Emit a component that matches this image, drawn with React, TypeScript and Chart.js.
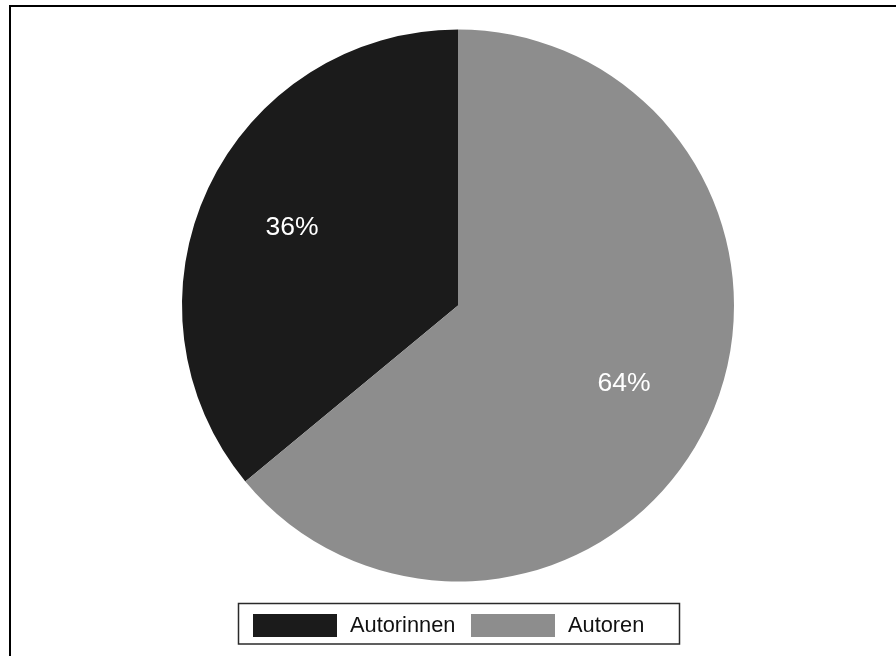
import React, { useEffect, useRef } from "react";
import { Chart, registerables } from "chart.js";

Chart.register(...registerables);

const categories = ["Autorinnen", "Autoren"];
const shares = [36, 64];
const sliceColors = ["#1b1b1b", "#8d8d8d"];
const FONT = '"Liberation Sans", Arial, Helvetica, sans-serif';

// Thin frame along the top and left edge
const framePlugin = {
  id: "frame",
  beforeDraw(chart: any) {
    const { ctx, width, height } = chart;
    ctx.save();
    ctx.fillStyle = "#ffffff";
    ctx.fillRect(0, 0, width, height);
    ctx.fillStyle = "#000000";
    ctx.fillRect(9, 5, width - 9, 2);
    ctx.fillRect(9, 5, 2, height - 5);
    ctx.restore();
  },
};

// Percentage labels inside each slice
const sliceLabelPlugin = {
  id: "sliceLabels",
  afterDatasetsDraw(chart: any) {
    const { ctx } = chart;
    const meta = chart.getDatasetMeta(0);
    const data = chart.data.datasets[0].data as number[];
    ctx.save();
    ctx.fillStyle = "#ffffff";
    ctx.font = `26.5px ${FONT}`;
    ctx.textAlign = "center";
    ctx.textBaseline = "middle";
    meta.data.forEach((arc: any, i: number) => {
      const { x, y, startAngle, endAngle, outerRadius } = arc.getProps(
        ["x", "y", "startAngle", "endAngle", "outerRadius"],
        true
      );
      const mid = (startAngle + endAngle) / 2;
      const d = outerRadius * 0.665;
      ctx.fillText(`${data[i]}%`, x + Math.cos(mid) * d, y + Math.sin(mid) * d);
    });
    ctx.restore();
  },
};

// Boxed legend below the pie
const boxLegendPlugin = {
  id: "boxLegend",
  afterDraw(chart: any) {
    const { ctx } = chart;
    const labels = chart.data.labels as string[];
    const colors = chart.data.datasets[0].backgroundColor as string[];
    const boxX = 238.5;
    const boxY = 603.5;
    const boxW = 441;
    const boxH = 40.5;
    ctx.save();
    ctx.strokeStyle = "#2a2a2a";
    ctx.lineWidth = 1.5;
    ctx.strokeRect(boxX, boxY, boxW, boxH);
    const swatchX = [253, 471];
    const textX = [350, 568];
    ctx.font = `21.8px ${FONT}`;
    ctx.textAlign = "left";
    ctx.textBaseline = "middle";
    labels.forEach((label, i) => {
      ctx.fillStyle = colors[i];
      ctx.fillRect(swatchX[i], 614, 84, 23);
      ctx.fillStyle = "#111111";
      ctx.fillText(label, textX[i], 626);
    });
    ctx.restore();
  },
};

export default function App() {
  const canvasRef = useRef<HTMLCanvasElement | null>(null);

  useEffect(() => {
    if (!canvasRef.current) return;
    const chart = new Chart(canvasRef.current, {
      type: "pie",
      data: {
        labels: categories,
        datasets: [
          {
            data: shares,
            backgroundColor: sliceColors,
            borderWidth: 0,
            offset: 0,
            hoverOffset: 0,
          },
        ],
      },
      options: {
        animation: false,
        responsive: false,
        maintainAspectRatio: false,
        rotation: (shares[1] / 100) * 360,
        radius: "100%",
        layout: { padding: { top: 29.5, bottom: 74.5, left: 20, right: 0 } },
        plugins: {
          legend: { display: false },
          tooltip: { enabled: false },
        },
      },
      plugins: [framePlugin, sliceLabelPlugin, boxLegendPlugin],
    });
    return () => chart.destroy();
  }, []);

  return (
    <div style={{ position: "fixed", left: 0, top: 0, width: 896, height: 656, background: "#fff" }}>
      <canvas ref={canvasRef} width={896} height={656} style={{ display: "block", width: 896, height: 656 }} />
    </div>
  );
}
